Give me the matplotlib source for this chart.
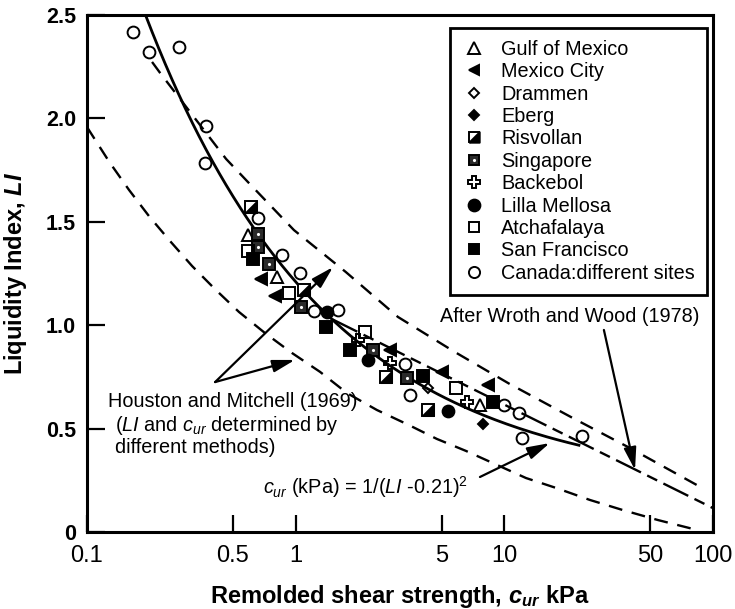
import numpy as np
import matplotlib
matplotlib.use("Agg")
import matplotlib.pyplot as plt
from matplotlib.lines import Line2D
from matplotlib.ticker import NullLocator

plt.rcParams['font.family'] = ['Liberation Sans', 'DejaVu Sans']
plt.rcParams['mathtext.fontset'] = 'custom'
plt.rcParams['mathtext.rm'] = 'Liberation Sans'
plt.rcParams['mathtext.it'] = 'Liberation Sans:italic'
plt.rcParams['mathtext.bf'] = 'Liberation Sans:bold'
plt.rcParams['mathtext.bfit'] = 'Liberation Sans:bold:italic'
plt.rcParams['lines.scale_dashes'] = False

# ---- measured data: remolded strength c_ur (kPa) vs liquidity index LI ----
gulf_c = [0.591, 0.814, 7.64]
gulf_li = [1.436, 1.233, 0.614]
mexico_c = [0.682, 0.796, 2.83, 5.02, 8.35]
mexico_li = [1.223, 1.141, 0.880, 0.774, 0.711]
drammen_c = [4.31]
drammen_li = [0.696]
eberg_c = [7.9]
eberg_li = [0.522]
risvollan_c = [0.611, 1.096, 2.71, 4.31]
risvollan_li = [1.572, 1.170, 0.750, 0.590]
singapore_c = [0.660, 0.660, 0.745, 1.06, 2.35, 3.41]
singapore_li = [1.441, 1.378, 1.296, 1.088, 0.880, 0.745]
backebol_c = [1.99, 2.83, 6.62]
backebol_li = [0.928, 0.817, 0.629]
lilla_c = [1.413, 2.22, 5.37]
lilla_li = [1.064, 0.832, 0.585]
atch_c = [0.591, 0.929, 2.15, 5.86]
atch_li = [1.359, 1.156, 0.967, 0.696]
sf_c = [0.624, 1.397, 1.82, 4.07, 8.82]
sf_li = [1.320, 0.991, 0.880, 0.754, 0.629]
canada_c = [0.166, 0.198, 0.276, 0.372, 0.368, 0.660, 0.860, 1.05, 1.224,
            1.595, 3.34, 3.53, 9.95, 11.7, 12.1, 23.6]
canada_li = [2.418, 2.321, 2.345, 1.963, 1.784, 1.518, 1.339, 1.252, 1.069,
             1.074, 0.812, 0.662, 0.614, 0.575, 0.455, 0.464]

# Houston and Mitchell (1969) bounding curves
hm_upper_c = [0.205, 0.224, 0.464, 0.591, 0.981, 1.74, 3.09, 5.80, 10.6,
              21.3, 40.0, 83.7]
hm_upper_li = [2.273, 2.220, 1.804, 1.692, 1.460, 1.257, 1.040, 0.870,
               0.716, 0.551, 0.406, 0.227]
hm_lower_c = [0.1, 0.128, 0.159, 0.198, 0.250, 0.319, 0.410, 0.535, 0.713,
              0.959, 1.31, 1.76, 2.45, 3.49, 4.75, 6.55, 12.7, 17.7, 25.7,
              37.0, 54.4, 83.7]
hm_lower_li = [1.958, 1.789, 1.654, 1.528, 1.407, 1.286, 1.175, 1.064,
               0.962, 0.866, 0.774, 0.672, 0.590, 0.517, 0.450, 0.392,
               0.261, 0.213, 0.155, 0.106, 0.058, 0.010]

# fitted relation c_ur = 1/(LI - 0.21)^2
fit_li = np.linspace(0.418, 2.5, 300)
fit_c = 1.0 / (fit_li - 0.21) ** 2

# Wroth and Wood (1978): c_ur = 170 exp(-4.6 LI)
ww_c = np.logspace(np.log10(1.5), 2, 100)
ww_li = np.log(170.0 / ww_c) / 4.6

x_ticks = [0.1, 0.5, 1, 5, 10, 50, 100]
x_ticklabels = ['0.1', '0.5', '1', '5', '10', '50', '100']
y_ticks = [0, 0.5, 1.0, 1.5, 2.0, 2.5]
y_ticklabels = ['0', '0.5', '1.0', '1.5', '2.0', '2.5']

fig = plt.figure(figsize=(7.35, 6.09), dpi=100)
ax = fig.add_axes([87 / 735, 77 / 609, 626 / 735, 517 / 609])
ax.set_xscale('log')
ax.set_xlim(0.1, 100)
ax.set_ylim(0, 2.5)

# curves
ax.plot(fit_c, fit_li, color='black', lw=2.0, solid_capstyle='butt', zorder=2)
ax.plot(hm_upper_c, hm_upper_li, color='black', lw=1.7, dashes=(10, 7), zorder=2)
ax.plot(hm_lower_c, hm_lower_li, color='black', lw=1.7, dashes=(10, 7), zorder=2)
ax.plot(ww_c, ww_li, color='black', lw=1.7, dashes=(20, 5, 8, 5), zorder=2)

mew = 1.4
lower_right = [(-1, -1), (1, -1), (1, 1), (-1, -1)]


def pts(c, li, marker, fc, ms):
    ax.plot(c, li, ls='none', marker=marker, mfc=fc, mec='black', mew=mew,
            ms=ms, zorder=3)


pts(gulf_c, gulf_li, '^', 'none', 8.5)
pts(mexico_c, mexico_li, '<', 'black', 8)
pts(drammen_c, drammen_li, 'D', 'none', 5.5)
pts(eberg_c, eberg_li, 'D', 'black', 5.5)
pts(risvollan_c, risvollan_li, 's', 'white', 8)
pts(risvollan_c, risvollan_li, lower_right, 'black', 8)
pts(singapore_c, singapore_li, 's', '#2a2a2a', 8)
ax.plot(singapore_c, singapore_li, ls='none', marker='.', color='white', ms=2.5, zorder=4)
pts(backebol_c, backebol_li, 'P', 'none', 9)
pts(lilla_c, lilla_li, 'o', 'black', 8.5)
pts(atch_c, atch_li, 's', 'none', 8)
pts(sf_c, sf_li, 's', 'black', 8)
pts(canada_c, canada_li, 'o', 'none', 8.5)


def h(marker, fc, ms):
    return Line2D([], [], ls='none', marker=marker, mfc=fc, mec='black', mew=mew, ms=ms)


handles = [
    h('^', 'none', 8),
    h('<', 'black', 7.5),
    h('D', 'none', 5),
    h('D', 'black', 5),
    (h('s', 'white', 7.5), h(lower_right, 'black', 7.5)),
    (h('s', '#2a2a2a', 7.5), Line2D([], [], ls='none', marker='.', color='white', ms=2.5)),
    h('P', 'none', 8.5),
    h('o', 'black', 8.5),
    h('s', 'none', 7.5),
    h('s', 'black', 7.5),
    h('o', 'none', 8),
]
labels = ['Gulf of Mexico', 'Mexico City', 'Drammen', 'Eberg', 'Risvollan',
          'Singapore', 'Backebol', 'Lilla Mellosa', 'Atchafalaya',
          'San Francisco', 'Canada:different sites']
fs = 14.3
leg = ax.legend(handles, labels, loc='upper right',
                bbox_to_anchor=(620 / 626, 504 / 517), bbox_transform=ax.transAxes,
                frameon=True, fancybox=False, edgecolor='black', framealpha=1,
                fontsize=fs, handlelength=1.2, handletextpad=0.8,
                labelspacing=0.17, borderpad=0.6, borderaxespad=0)
leg.get_frame().set_linewidth(2.0)

# annotations
arrow = dict(arrowstyle='-|>,head_length=0.9,head_width=0.25', lw=1.6,
             color='black', shrinkA=0, shrinkB=0, mutation_scale=15)
for tip in [(1.51, 1.281), (0.992, 0.832)]:
    ax.annotate('', xy=tip, xytext=(0.411, 0.725), arrowprops=arrow)
ax.annotate('', xy=(42.3, 0.300), xytext=(30.0, 0.977), arrowprops=arrow)
ax.annotate('', xy=(16.5, 0.430), xytext=(7.64, 0.266), arrowprops=arrow)

ax.text(0.126, 0.629, 'Houston and Mitchell (1969)', fontsize=fs, va='center', ha='left')
ax.text(0.136, 0.513, r'($\mathit{LI}$ and $\mathit{c}_{\mathit{ur}}$ determined by',
        fontsize=fs, va='center', ha='left')
ax.text(0.136, 0.411, 'different methods)', fontsize=fs, va='center', ha='left')
ax.text(4.91, 1.040, 'After Wroth and Wood (1978)', fontsize=fs, va='center', ha='left')
ax.text(0.697, 0.218, r'$\mathit{c}_{\mathit{ur}}$ (kPa) = 1/($\mathit{LI}$ -0.21)$^2$',
        fontsize=fs, va='center', ha='left')

# axes styling
ax.set_xticks(x_ticks)
ax.set_xticklabels(x_ticklabels)
ax.xaxis.set_minor_locator(NullLocator())
ax.set_yticks(y_ticks)
ax.set_yticklabels(y_ticklabels, fontweight='bold')
ax.tick_params(axis='x', direction='in', length=12, width=1.6, pad=9, labelsize=17)
ax.tick_params(axis='y', direction='in', length=13, width=1.6, pad=8, labelsize=15.5)
for s in ax.spines.values():
    s.set_linewidth(2.2)

ax.set_xlabel(r'Remolded shear strength, $\mathbfit{c}_{\mathbfit{ur}}$ kPa',
              fontsize=17, fontweight='bold', labelpad=12)
ax.set_ylabel(r'Liquidity Index, $\mathbfit{LI}$', fontsize=17,
              fontweight='bold', labelpad=12)

fig.savefig('out.png', dpi=100)
